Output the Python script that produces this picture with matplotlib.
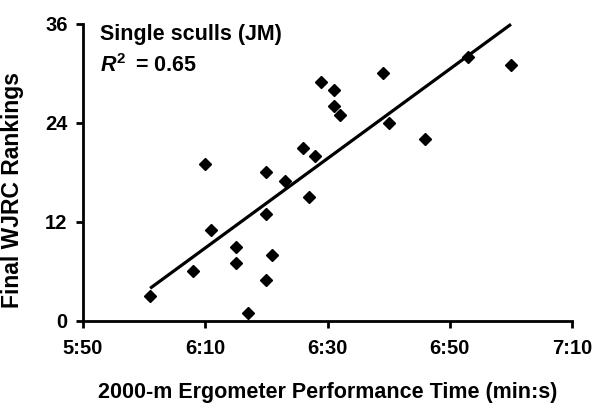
import numpy as np
import matplotlib.pyplot as plt
from matplotlib.ticker import FuncFormatter

plt.rcParams['font.family'] = ['Liberation Sans', 'DejaVu Sans']
plt.rcParams['font.weight'] = 'bold'
plt.rcParams['mathtext.fontset'] = 'custom'
plt.rcParams['mathtext.rm'] = 'Liberation Sans:bold'
plt.rcParams['mathtext.it'] = 'Liberation Sans:italic:bold'
plt.rcParams['mathtext.bf'] = 'Liberation Sans:bold'

# 2000-m ergometer time in seconds, final WJRC ranking
erg_time = [361, 368, 370, 371, 375, 375, 377, 380, 380, 380, 381, 383,
            386, 387, 388, 389, 391, 391, 392, 399, 400, 406, 413, 420]
ranking = [3, 6, 19, 11, 9, 7, 1, 18, 13, 5, 8, 17,
           21, 15, 20, 29, 28, 26, 25, 30, 24, 22, 32, 31]

x_ticks = [350, 370, 390, 410, 430]
y_ticks = [0, 12, 24, 36]

x = np.array(erg_time, dtype=float)
y = np.array(ranking, dtype=float)
slope, intercept = np.polyfit(x, y, 1)
xfit = np.array([x.min(), x.max()])

fig = plt.figure(figsize=(5.96, 4.03), dpi=100)
ax = fig.add_axes([0.139, 0.2035, 0.821, 0.737])

ax.plot(x, y, 'D', color='black', markersize=6.5, clip_on=False)
ax.plot(xfit, slope * xfit + intercept, color='black', lw=2.3,
        solid_capstyle='butt', clip_on=False)

ax.set_xlim(350, 430)
ax.set_ylim(0, 36)
ax.set_xticks(x_ticks)
ax.set_yticks(y_ticks)
ax.xaxis.set_major_formatter(FuncFormatter(lambda v, p: f"{int(v)//60}:{int(v)%60:02d}"))

for s in ['top', 'right']:
    ax.spines[s].set_visible(False)
for s in ['left', 'bottom']:
    ax.spines[s].set_linewidth(2)
ax.tick_params(width=2, length=5, labelsize=14.5)
ax.tick_params(axis='x', pad=8)
ax.tick_params(axis='y', pad=6)

ax.set_xlabel("2000-m Ergometer Performance Time (min:s)", fontsize=15.5, fontweight='bold')
ax.xaxis.set_label_coords(0.5, -0.205)
ax.set_ylabel("Final WJRC Rankings", fontsize=16.5, fontweight='bold')
ax.yaxis.set_label_coords(-0.12, 0.44)

ax.text(0.035, 0.946, "Single sculls (JM)", transform=ax.transAxes, fontsize=15.5,
        fontweight='bold', va='baseline', ha='left')
ax.text(0.035, 0.838, r"$R^{2}\,$ = 0.65", transform=ax.transAxes, fontsize=15.5,
        fontweight='bold', va='baseline', ha='left')

fig.savefig("out.png", dpi=100)
